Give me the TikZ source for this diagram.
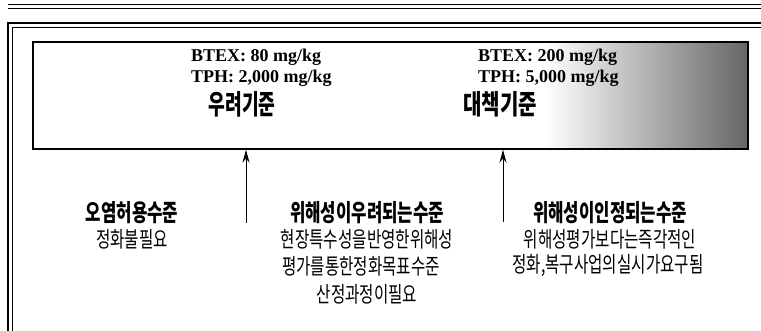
\documentclass[tikz,border=0pt]{standalone}
\usepackage{fontspec}
\usepackage{graphicx}
\setmainfont{Liberation Serif}
\newfontfamily\kr{Noto Sans CJK KR}
\usetikzlibrary{arrows.meta,shadings}
\newcommand\hd[1]{\scalebox{0.76}[1.08]{\kr\bfseries\fontsize{22}{26}\selectfont #1}}
\newcommand\bd[1]{\scalebox{0.75}[1.05]{\kr\fontsize{20.8}{24}\selectfont #1}}
\begin{document}
\begin{tikzpicture}[x=1pt,y=1pt,
  chem/.style={anchor=west,inner sep=0pt,font=\bfseries\fontsize{18}{21}\selectfont},
  lbl/.style={inner sep=0pt},
  up/.style={-{Stealth[length=13pt,width=7pt]},line width=1pt}]
\useasboundingbox (0,0) rectangle (761,331);
% page rules
\draw[line width=1.6pt] (8,326.5) -- (761,326.5);
\draw[line width=0.8pt] (8,322.5) -- (761,322.5);
\draw[line width=2pt] (8,0) -- (8,308) -- (761,308);
\draw[line width=0.8pt] (12.5,0) -- (12.5,304) -- (761,304);
% shading inside the box
\shade[left color=white,right color=black!60] (545,182) rectangle (748,289);
\node (box) [draw,line width=1.4pt,minimum width=715pt,minimum height=107pt,inner sep=0pt] at (390.5,235.5) {};
% box texts
\node[chem] (b1) at (191,274) {BTEX: 80 mg/kg};
\node[chem] (t1) at (191,253) {TPH: 2,000 mg/kg};
\node[lbl] (k1) at (242,227) {\scalebox{0.7}[1.05]{\kr\bfseries\fontsize{26}{30}\selectfont 우려기준}};
\node[chem] (b2) at (478,274) {BTEX: 200 mg/kg};
\node[chem] (t2) at (478,253) {TPH: 5,000 mg/kg};
\node[lbl] (k2) at (500,227) {\scalebox{0.77}[1.05]{\kr\bfseries\fontsize{26}{30}\selectfont 대책기준}};
% arrows
\coordinate (a1) at (246,108);
\coordinate (a2) at (503,109);
\draw[up] (a1) -- (a1 |- box.south);
\draw[up] (a2) -- (a2 |- box.south);
% lower texts
\node[lbl] (h1) at (132,118) {\hd{오염허용수준}};
\node[lbl] (l1) at (132,92) {\bd{정화불필요}};
\node[lbl] (h2) at (367,118) {\hd{위해성이우려되는수준}};
\node[lbl] (m1) at (367,92) {\bd{현장특수성을반영한위해성}};
\node[lbl] (m2) at (361,65) {\bd{평가를통한정화목표수준}};
\node[lbl] (m3) at (367,37) {\bd{산정과정이필요}};
\node[lbl] (h3) at (610,118) {\hd{위해성이인정되는수준}};
\node[lbl] (r1) at (610,92) {\bd{위해성평가보다는즉각적인}};
\node[lbl] (r2) at (608,65) {\bd{정화,복구사업의실시가요구됨}};
\end{tikzpicture}
\end{document}
